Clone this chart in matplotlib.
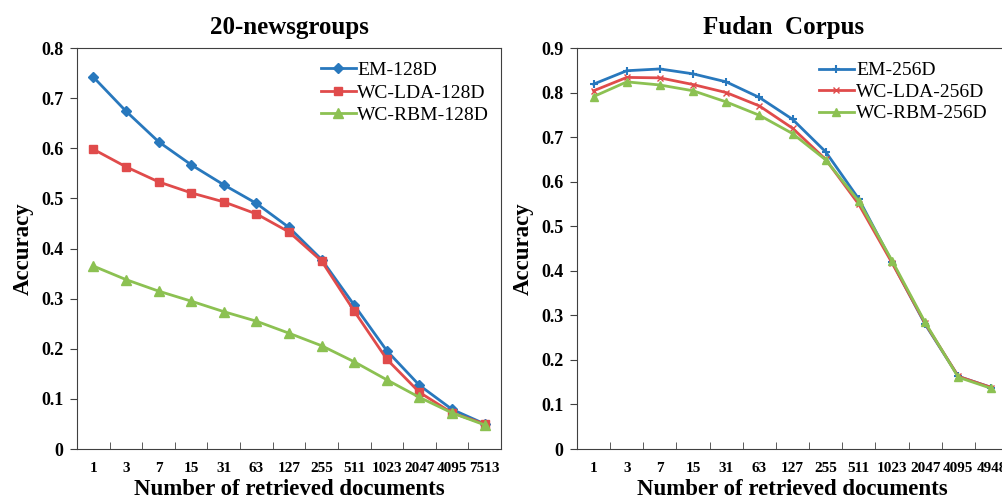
import matplotlib
matplotlib.use("Agg")
import matplotlib.pyplot as plt

plt.rcParams['font.family'] = ['Liberation Serif', 'DejaVu Serif']

# data
news_labels = ["1", "3", "7", "15", "31", "63", "127", "255", "511", "1023", "2047", "4095", "7513"]
news_em = [0.742, 0.674, 0.613, 0.567, 0.527, 0.490, 0.442, 0.378, 0.287, 0.196, 0.127, 0.079, 0.050]
news_lda = [0.598, 0.563, 0.533, 0.511, 0.493, 0.469, 0.433, 0.375, 0.275, 0.179, 0.113, 0.072, 0.050]
news_rbm = [0.365, 0.338, 0.315, 0.295, 0.274, 0.255, 0.231, 0.206, 0.174, 0.138, 0.103, 0.072, 0.048]

fudan_labels = ["1", "3", "7", "15", "31", "63", "127", "255", "511", "1023", "2047", "4095", "4948"]
fudan_em = [0.819, 0.849, 0.853, 0.842, 0.824, 0.789, 0.740, 0.667, 0.561, 0.420, 0.280, 0.163, 0.138]
fudan_lda = [0.804, 0.834, 0.833, 0.818, 0.800, 0.770, 0.720, 0.650, 0.549, 0.418, 0.282, 0.163, 0.138]
fudan_rbm = [0.791, 0.824, 0.817, 0.804, 0.779, 0.749, 0.708, 0.649, 0.556, 0.423, 0.284, 0.161, 0.136]

blue = "#2878BD"
red = "#E04B4B"
green = "#8CC152"

fig = plt.figure(figsize=(10.03, 4.99), dpi=100)
ax1 = fig.add_axes([0.0768, 0.1002, 0.4227, 0.8036])
ax2 = fig.add_axes([0.5753, 0.1002, 0.4297, 0.8036])


def style(ax, labels, ymax):
    n = len(labels)
    x = list(range(n))
    ax.set_xlim(-0.5, n - 0.5)
    ax.set_ylim(0, ymax)
    k = int(round(ymax * 10))
    ax.set_yticks([i / 10 for i in range(k + 1)])
    ax.set_yticklabels(["0"] + ["%.1f" % (i / 10) for i in range(1, k + 1)],
                       fontweight="bold", fontsize=13)
    ax.set_xticks(x)
    ax.set_xticklabels(labels, fontweight="bold", fontsize=11)
    ax.tick_params(axis="x", which="major", length=0, pad=9)
    ax.set_xticks([i + 0.5 for i in range(n - 1)], minor=True)
    ax.tick_params(axis="x", which="minor", direction="in", length=5, color="#404040")
    ax.tick_params(axis="y", direction="out", length=5, color="#404040", pad=5)
    for s in ax.spines.values():
        s.set_color("#404040")
    ax.set_ylabel("Accuracy", fontweight="bold", fontsize=16.5, labelpad=5)
    ax.set_xlabel("Number of retrieved documents", fontweight="bold", fontsize=16.5, labelpad=3)
    return x


x = style(ax1, news_labels, 0.8)
ax1.plot(x, news_em, color=blue, marker="D", markersize=5.5, linewidth=2, label="EM-128D")
ax1.plot(x, news_lda, color=red, marker="s", markersize=5.5, linewidth=2, label="WC-LDA-128D")
ax1.plot(x, news_rbm, color=green, marker="^", markersize=6.5, linewidth=2, label="WC-RBM-128D")
ax1.set_title("20-newsgroups", fontweight="bold", fontsize=18, pad=10)
ax1.legend(loc="upper right", frameon=False, fontsize=14, handlelength=1.8,
           handletextpad=0.1, labelspacing=0.25, borderaxespad=0.2, bbox_to_anchor=(1.0, 0.995))

x = style(ax2, fudan_labels, 0.9)
ax2.plot(x, fudan_em, color=blue, marker="+", markersize=6, markeredgewidth=1.5, linewidth=2, label="EM-256D")
ax2.plot(x, fudan_lda, color=red, marker="x", markersize=5, markeredgewidth=1, linewidth=2, label="WC-LDA-256D")
ax2.plot(x, fudan_rbm, color=green, marker="^", markersize=6, linewidth=2, label="WC-RBM-256D")
ax2.set_title("Fudan  Corpus", fontweight="bold", fontsize=18, pad=10, x=0.48)
ax2.legend(loc="upper right", frameon=False, fontsize=14, handlelength=1.8,
           handletextpad=0.1, labelspacing=0.2, borderaxespad=0.1, bbox_to_anchor=(0.975, 0.99))

fig.savefig("out.png", dpi=100)
